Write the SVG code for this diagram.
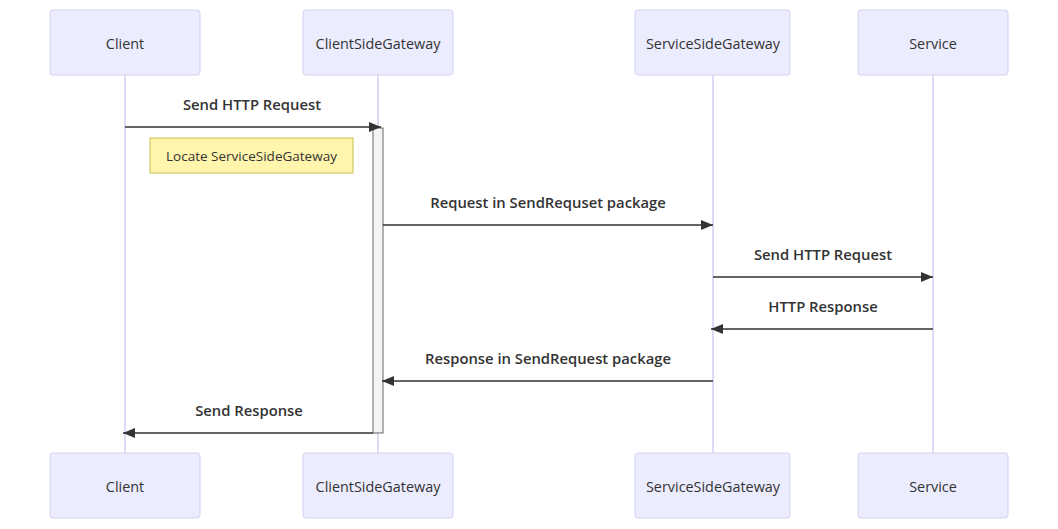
<svg xmlns="http://www.w3.org/2000/svg" width="1058" height="529" viewBox="0 0 1058 529">
<style>
.actor{fill:#ececff;stroke:#d6d0f5;stroke-width:1}
.atext{font-family:"Open Sans","Liberation Sans",sans-serif;font-size:14.4px;fill:#333;text-anchor:middle;dominant-baseline:central}
.life{stroke:#d3ccf2;stroke-width:1.5}
.msg{stroke:#333;stroke-width:1.5;fill:none}
.mtext{font-family:"Open Sans","Liberation Sans",sans-serif;font-size:14.8px;font-weight:600;fill:#333;text-anchor:middle;dominant-baseline:central}
.note{fill:#fff5ad;stroke:#c8c050;stroke-width:1}
.ntext{font-family:"Open Sans","Liberation Sans",sans-serif;font-size:13.5px;fill:#333;text-anchor:middle;dominant-baseline:central}
</style>
<defs>
<marker id="arr" viewBox="0 0 12 10" refX="12" refY="5" markerWidth="12" markerHeight="10" markerUnits="userSpaceOnUse" orient="auto">
<path d="M0,0 L12,5 L0,10 z" fill="#333"/>
</marker>
</defs>
<rect width="1058" height="529" fill="#fff"/>
<g id="lifelines">
<line class="life" x1="125" y1="75" x2="125" y2="453"/>
<line class="life" x1="378" y1="75" x2="378" y2="453"/>
<line class="life" x1="713" y1="75" x2="713" y2="453"/>
<line class="life" x1="933" y1="75" x2="933" y2="453"/>
</g>
<g id="client">
<rect class="actor" x="50" y="10" width="150" height="65" rx="3"/>
<text class="atext" x="125" y="43">Client</text>
</g>
<g id="clientsidegateway">
<rect class="actor" x="303" y="10" width="150" height="65" rx="3"/>
<text class="atext" x="378" y="43">ClientSideGateway</text>
</g>
<g id="servicesidegateway">
<rect class="actor" x="635" y="10" width="155" height="65" rx="3"/>
<text class="atext" x="713" y="43">ServiceSideGateway</text>
</g>
<g id="service">
<rect class="actor" x="858" y="10" width="150" height="65" rx="3"/>
<text class="atext" x="933" y="43">Service</text>
</g>
<g id="client-bottom">
<rect class="actor" x="50" y="453" width="150" height="65" rx="3"/>
<text class="atext" x="125" y="486">Client</text>
</g>
<g id="clientsidegateway-bottom">
<rect class="actor" x="303" y="453" width="150" height="65" rx="3"/>
<text class="atext" x="378" y="486">ClientSideGateway</text>
</g>
<g id="servicesidegateway-bottom">
<rect class="actor" x="635" y="453" width="155" height="65" rx="3"/>
<text class="atext" x="713" y="486">ServiceSideGateway</text>
</g>
<g id="service-bottom">
<rect class="actor" x="858" y="453" width="150" height="65" rx="3"/>
<text class="atext" x="933" y="486">Service</text>
</g>
<g id="activation">
<rect x="373" y="128" width="10" height="305" fill="#f4f4f4" stroke="#666" stroke-width="1"/>
</g>
<g id="note">
<rect class="note" x="150" y="138" width="203" height="35"/>
<text class="ntext" x="251.5" y="155.5">Locate ServiceSideGateway</text>
</g>
<g id="connectors">
<line class="msg" x1="125" y1="127" x2="381" y2="127" marker-end="url(#arr)"/>
<text class="mtext" x="252" y="104">Send HTTP Request</text>
<line class="msg" x1="383" y1="225" x2="713" y2="225" marker-end="url(#arr)"/>
<text class="mtext" x="548" y="202">Request in SendRequset package</text>
<line class="msg" x1="713" y1="277" x2="933" y2="277" marker-end="url(#arr)"/>
<text class="mtext" x="823" y="254">Send HTTP Request</text>
<line class="msg" x1="933" y1="329" x2="711" y2="329" marker-end="url(#arr)"/>
<text class="mtext" x="823" y="306">HTTP Response</text>
<line class="msg" x1="713" y1="381" x2="382" y2="381" marker-end="url(#arr)"/>
<text class="mtext" x="548" y="358">Response in SendRequest package</text>
<line class="msg" x1="373" y1="433" x2="123" y2="433" marker-end="url(#arr)"/>
<text class="mtext" x="249" y="410">Send Response</text>
</g>
</svg>
